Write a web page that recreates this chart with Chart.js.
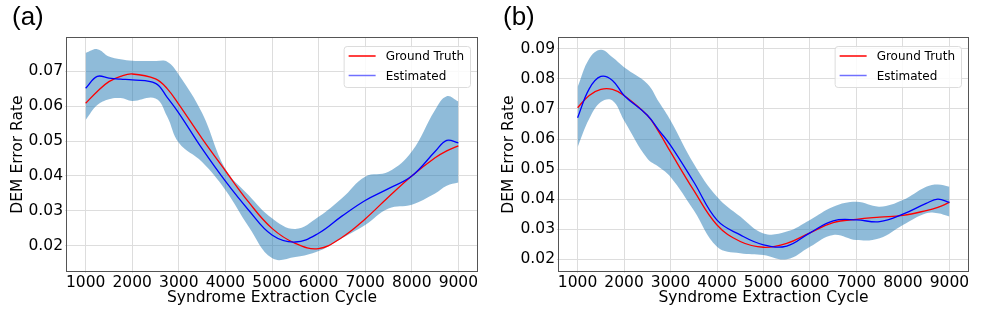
<!DOCTYPE html>
<html>
<head>
<meta charset="utf-8">
<script src="https://cdn.jsdelivr.net/npm/chart.js@4"></script>
<style>
body { margin: 0; background: #fff; width: 997px; height: 312px; position: relative; overflow: hidden; }
.panel { position: absolute; top: 0; height: 312px; }
.tag { position: absolute; top: 1px; font: 26px 'Liberation Sans', Arial, sans-serif; color: #000; }
</style>
</head>
<body>
<div class="panel" style="left:0;width:497px"><canvas id="chartA" width="497" height="312"></canvas></div>
<div class="panel" style="left:497px;width:500px"><canvas id="chartB" width="500" height="312"></canvas></div>
<div class="tag" style="left:12px">(a)</div>
<div class="tag" style="left:503px">(b)</div>
<script>
// x positions shared by every series
const cycles = [1000, 1250, 1500, 1750, 2000, 2500, 2750, 3000, 3500, 4000, 4500, 5000, 5500, 6000, 6500, 7000, 7500, 8000, 8500, 8750, 9000];
const xTicks = [1000, 2000, 3000, 4000, 5000, 6000, 7000, 8000, 9000];
const yTicksA = [0.02, 0.03, 0.04, 0.05, 0.06, 0.07];
const yTicksB = [0.02, 0.03, 0.04, 0.05, 0.06, 0.07, 0.08, 0.09];
const legendLabels = ['Ground Truth', 'Estimated'];

// panel (a)
const gtA  = [.0608, .0642, .0670, .0685, .0692, .0678, .0650, .0605, .0507, .0415, .0325, .0250, .0207, .0192, .0224, .0277, .0340, .0400, .0452, .0472, .0486];
const estA = [.0651, .0685, .0680, .0677, .0675, .0665, .0625, .0580, .0478, .0385, .0302, .0231, .0211, .0236, .0285, .0330, .0364, .0400, .0470, .0502, .0495];
const upA  = [.0752, .0763, .0742, .0734, .0730, .0729, .0727, .0690, .0580, .0420, .0345, .0279, .0248, .0283, .0336, .0398, .0412, .0470, .0589, .0628, .0613];
const loA  = [.0560, .0603, .0620, .0623, .0615, .0622, .0570, .0495, .0440, .0360, .0255, .0165, .0168, .0185, .0222, .0260, .0307, .0318, .0350, .0372, .0381];

// panel (b)
const gtB  = [.0704, .0745, .0765, .0765, .0745, .0679, .0623, .0557, .0429, .0314, .0259, .0240, .0253, .0288, .0322, .0333, .0340, .0346, .0362, .0373, .0389];
const estB = [.0671, .0767, .0808, .0795, .0745, .0679, .0629, .0579, .0457, .0330, .0281, .0248, .0244, .0288, .0328, .0331, .0325, .0350, .0386, .0400, .0389];
const upB  = [.0773, .0867, .0897, .0872, .0839, .0784, .0723, .0662, .0518, .0408, .0342, .0286, .0292, .0331, .0375, .0391, .0375, .0397, .0441, .0449, .0441];
const loB  = [.0573, .0667, .0723, .0728, .0662, .0535, .0507, .0474, .0363, .0242, .0220, .0214, .0200, .0242, .0281, .0264, .0270, .0314, .0353, .0353, .0342];

Chart.defaults.font.family = "'DejaVu Sans', sans-serif";
Chart.defaults.color = '#000';

const pts = ys => ys.map((y, i) => ({ x: cycles[i], y: y }));

// box around the plot area (matplotlib style spines)
const frame = {
    id: 'frame',
    afterDatasetsDraw(chart) {
        const { ctx, chartArea: a } = chart;
        ctx.save();
        ctx.strokeStyle = '#555';
        ctx.lineWidth = 1;
        ctx.strokeRect(a.left - 0.5, a.top - 0.5, a.right - a.left + 1, a.bottom - a.top + 1);
        ctx.restore();
    }
};

// legend in the upper right corner of the plot
const legendBox = {
    id: 'legendBox',
    afterDraw(chart) {
        const { ctx, chartArea: a } = chart;
        const items = chart.data.datasets.filter(d => !d.band);
        ctx.save();
        ctx.font = "12px 'DejaVu Sans'";
        const textW = Math.max(...items.map(d => ctx.measureText(d.label).width));
        const w = 42 + textW + 6, h = 41;
        const x = a.right - 7 - w, y = a.top + 8;
        ctx.fillStyle = 'rgba(255,255,255,0.85)';
        ctx.strokeStyle = '#dcdcdc';
        ctx.lineWidth = 1;
        ctx.beginPath();
        ctx.roundRect(x + 0.5, y + 0.5, w, h, 3);
        ctx.fill();
        ctx.stroke();
        items.forEach((d, i) => {
            const ly = y + 10 + i * 19.5;
            ctx.strokeStyle = d.legendColor || d.borderColor;
            ctx.lineWidth = 1.5;
            ctx.beginPath();
            ctx.moveTo(x + 5, ly);
            ctx.lineTo(x + 32, ly);
            ctx.stroke();
            ctx.fillStyle = '#000';
            ctx.textBaseline = 'middle';
            ctx.fillText(d.label, x + 42, ly + 1);
        });
        ctx.restore();
    }
};

function makeChart(id, p) {
    const line = (label, ys, color, order) => ({
        label: label,
        data: pts(ys),
        borderColor: color,
        borderWidth: 1.3,
        pointRadius: 0,
        fill: false,
        tension: 0.4,
        order: order
    });
    return new Chart(document.getElementById(id), {
        type: 'line',
        data: {
            datasets: [
                { label: 'upper', band: true, data: pts(p.up), fill: '+1', backgroundColor: 'rgba(31,119,180,0.5)',
                  borderColor: 'rgba(0,0,0,0)', pointRadius: 0, tension: 0.4, order: 3 },
                { label: 'lower', band: true, data: pts(p.lo), fill: false,
                  borderColor: 'rgba(0,0,0,0)', pointRadius: 0, tension: 0.4, order: 3 },
                line(legendLabels[0], p.gt, '#ff0000', 2),
                Object.assign(line(legendLabels[1], p.est, '#0000ff', 1), { legendColor: '#7070ff' })
            ]
        },
        options: {
            responsive: false,
            animation: false,
            layout: { padding: { top: 38, right: p.padRight, bottom: 0, left: 0 } },
            plugins: { legend: { display: false }, tooltip: { enabled: false } },
            scales: {
                x: {
                    type: 'linear',
                    min: 600,
                    max: 9400,
                    afterBuildTicks: s => { s.ticks = xTicks.map(v => ({ value: v })); },
                    afterFit: s => { s.height = 41; },
                    grid: { color: '#dddddd', tickLength: 2 },
                    border: { display: false },
                    ticks: { font: { size: 15.5 }, padding: 1, maxRotation: 0, autoSkip: false, callback: v => String(v) },
                    title: { display: true, text: 'Syndrome Extraction Cycle', font: { size: 15.5 }, padding: { top: 0, bottom: 5 } }
                },
                y: {
                    min: p.yMin,
                    max: p.yMax,
                    afterBuildTicks: s => { s.ticks = p.yTicks.map(v => ({ value: v })); },
                    afterFit: s => { s.width = p.yWidth; },
                    grid: { color: '#dddddd', tickLength: 2 },
                    border: { display: false },
                    ticks: { font: { size: 15.5 }, padding: 2, callback: v => v.toFixed(2) },
                    title: { display: true, text: 'DEM Error Rate', font: { size: 15.5 }, padding: { top: p.titlePad, bottom: 0 } }
                }
            }
        },
        plugins: [frame, legendBox]
    });
}

makeChart('chartA', { gt: gtA, est: estA, up: upA, lo: loA, yMin: 0.0128, yMax: 0.0795, yTicks: yTicksA, yWidth: 67, padRight: 20, titlePad: 9 });
makeChart('chartB', { gt: gtB, est: estB, up: upB, lo: loB, yMin: 0.0161, yMax: 0.0936, yTicks: yTicksB, yWidth: 62, padRight: 29, titlePad: 3 });
</script>
</body>
</html>
